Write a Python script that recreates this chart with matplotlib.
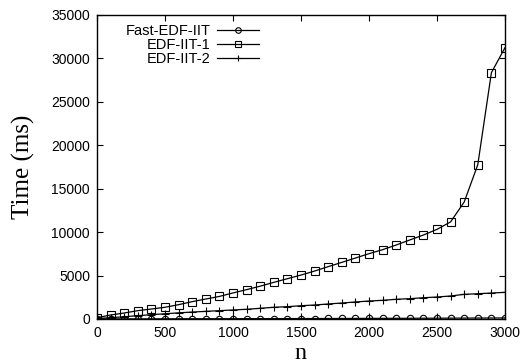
import matplotlib
matplotlib.use("Agg")
import matplotlib.pyplot as plt

n = [0, 100, 200, 300, 400, 500, 600, 700, 800, 900, 1000, 1100, 1200, 1300, 1400, 1500,
     1600, 1700, 1800, 1900, 2000, 2100, 2200, 2300, 2400, 2500, 2600, 2700, 2800, 2900, 3000]
fast_edf_iit = [5, 10, 12, 15, 18, 20, 23, 26, 29, 32, 35, 38, 41, 45, 48, 52, 55, 59, 63, 67,
                71, 75, 80, 84, 89, 94, 99, 104, 110, 115, 121]
edf_iit_1 = [150, 460, 690, 960, 1150, 1350, 1650, 2000, 2300, 2600, 3000, 3380, 3780, 4220,
             4640, 5060, 5520, 6030, 6520, 7020, 7520, 7980, 8520, 9100, 9670, 10320, 11180,
             13470, 17770, 28360, 31240]
edf_iit_2 = [50, 150, 260, 380, 500, 600, 710, 800, 880, 960, 1040, 1120, 1230, 1350, 1420,
             1530, 1610, 1730, 1840, 1960, 2070, 2150, 2270, 2340, 2450, 2530, 2650, 2840,
             2910, 2990, 3070]
labels = ["Fast-EDF-IIT", "EDF-IIT-1", "EDF-IIT-2"]
xticks = [0, 500, 1000, 1500, 2000, 2500, 3000]
yticks = [0, 5000, 10000, 15000, 20000, 25000, 30000, 35000]

sans = ["Liberation Sans", "DejaVu Sans"]
serif = ["Liberation Serif", "DejaVu Serif"]

fig = plt.figure(figsize=(5.23, 3.63), dpi=100)
ax = fig.add_axes([97 / 523, 1 - 319 / 363, 408 / 523, 304 / 363])

lw = 0.9
ax.plot(n, fast_edf_iit, color="black", lw=lw, marker="o", ms=4.6, mfc="none", mew=0.8,
        label=labels[0])
ax.plot(n, edf_iit_1, color="black", lw=lw, marker="s", ms=5.2, mfc="none", mew=0.8,
        label=labels[1])
ax.plot(n, edf_iit_2, color="black", lw=lw, marker="+", ms=6, mew=0.8,
        label=labels[2])

ax.set_xlim(0, 3000)
ax.set_ylim(0, 35000)
ax.set_xticks(xticks)
ax.set_yticks(yticks)
ax.set_xticklabels([str(v) for v in xticks], family=sans, fontsize=10)
ax.set_yticklabels([str(v) for v in yticks], family=sans, fontsize=10)
ax.tick_params(direction="in", length=4.5, width=0.8, top=True, right=True, pad=5)
for s in ax.spines.values():
    s.set_linewidth(1.0)

ax.set_xlabel("n", family=serif, fontsize=17.5, labelpad=2)
ax.set_ylabel("Time (ms)", family=serif, fontsize=18, labelpad=12)

leg = ax.legend(loc="upper right", bbox_to_anchor=(0.43, 1.012), frameon=False,
                markerfirst=False, handlelength=2.9, handletextpad=0.45,
                labelspacing=0.0, prop={"family": sans, "size": 10.5})
for t in leg.get_texts():
    t.set_ha("right")
for h in leg.legend_handles:
    h.set_markersize(4)

fig.savefig("out.png", dpi=100)
